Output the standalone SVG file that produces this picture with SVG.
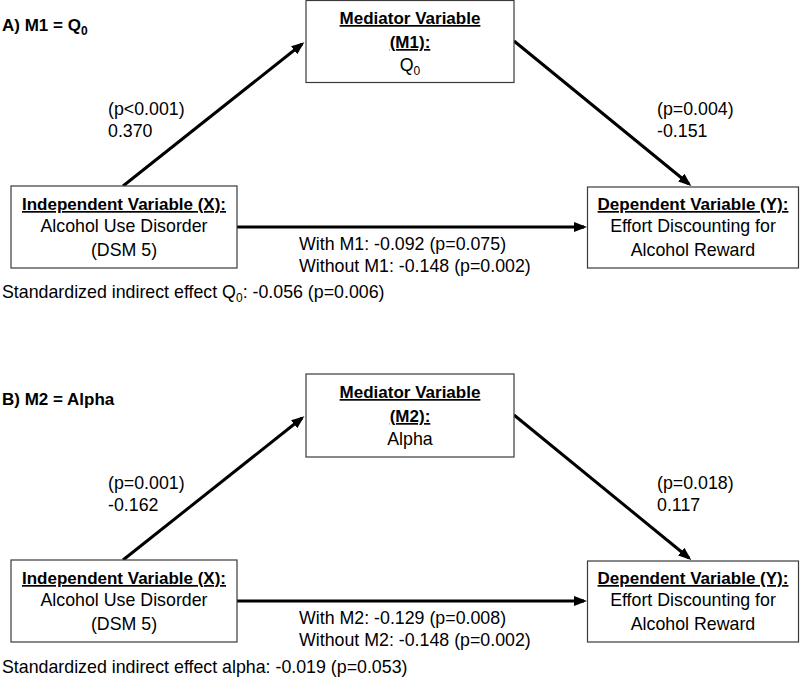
<svg xmlns="http://www.w3.org/2000/svg" width="800" height="680" viewBox="0 0 800 680">
<defs>
<style>
text{font-family:"Liberation Sans",Arial,sans-serif;font-size:17.8px;fill:#000}
.b{font-weight:bold;font-size:17px}
.u{text-decoration:underline}
.c{text-anchor:middle}
.box{fill:#fff;stroke:#3a3a3a;stroke-width:1.2}
.arr{stroke:#000;stroke-width:3;fill:none;marker-end:url(#ah)}
</style>
<marker id="ah" markerUnits="userSpaceOnUse" markerWidth="14" markerHeight="14" viewBox="0 0 14 14" refX="10" refY="7" orient="auto">
<path d="M0,2 L13,7 L0,12 z" fill="#000"/>
</marker>
</defs>
<rect width="800" height="680" fill="#fff"/>

<!-- Panel A -->
<text id="titleA" class="b" x="2" y="31">A) M1 = Q<tspan font-size="12" dy="4">0</tspan></text>
<g id="connectorsA">
<line class="arr" x1="123" y1="186" x2="302" y2="44"/>
<line class="arr" x1="514" y1="41" x2="689" y2="184"/>
<line class="arr" x1="237" y1="227" x2="584" y2="227"/>
</g>
<g id="mediatorA">
<rect class="box" x="306" y="0.5" width="208" height="82"/>
<text class="b u c" x="410" y="24">Mediator Variable</text>
<text class="b u c" x="410" y="48">(M1):</text>
<text class="c" x="410" y="71">Q<tspan font-size="12" dy="4">0</tspan></text>
</g>
<g id="independentA">
<rect class="box" x="11" y="186" width="226" height="82"/>
<text class="b u c" x="124" y="210">Independent Variable (X):</text>
<text class="c" x="124" y="232">Alcohol Use Disorder</text>
<text class="c" x="124" y="256">(DSM 5)</text>
</g>
<g id="dependentA">
<rect class="box" x="587.5" y="187" width="211" height="81"/>
<text class="b u c" x="693" y="210">Dependent Variable (Y):</text>
<text class="c" x="693" y="232">Effort Discounting for</text>
<text class="c" x="693" y="256">Alcohol Reward</text>
</g>
<g id="labelsA">
<text x="108" y="115">(p&lt;0.001)</text>
<text x="108" y="137">0.370</text>
<text x="657" y="115">(p=0.004)</text>
<text x="657" y="137">-0.151</text>
<text x="299" y="250">With M1: -0.092 (p=0.075)</text>
<text x="299" y="272">Without M1: -0.148 (p=0.002)</text>
<text x="2" y="298">Standardized indirect effect Q<tspan font-size="12" dy="4">0</tspan><tspan dy="-4">: -0.056 (p=0.006)</tspan></text>
</g>

<!-- Panel B -->
<text id="titleB" class="b" x="2" y="405">B) M2 = Alpha</text>
<g id="connectorsB">
<line class="arr" x1="123" y1="560" x2="302" y2="418"/>
<line class="arr" x1="514" y1="415" x2="689" y2="558"/>
<line class="arr" x1="237" y1="601" x2="584" y2="601"/>
</g>
<g id="mediatorB">
<rect class="box" x="306" y="374" width="208" height="83"/>
<text class="b u c" x="410" y="398">Mediator Variable</text>
<text class="b u c" x="410" y="422">(M2):</text>
<text class="c" x="410" y="445">Alpha</text>
</g>
<g id="independentB">
<rect class="box" x="11" y="560" width="226" height="82"/>
<text class="b u c" x="124" y="584">Independent Variable (X):</text>
<text class="c" x="124" y="606">Alcohol Use Disorder</text>
<text class="c" x="124" y="630">(DSM 5)</text>
</g>
<g id="dependentB">
<rect class="box" x="587.5" y="561" width="211" height="81"/>
<text class="b u c" x="693" y="584">Dependent Variable (Y):</text>
<text class="c" x="693" y="606">Effort Discounting for</text>
<text class="c" x="693" y="630">Alcohol Reward</text>
</g>
<g id="labelsB">
<text x="108" y="489">(p=0.001)</text>
<text x="108" y="511">-0.162</text>
<text x="657" y="489">(p=0.018)</text>
<text x="657" y="511">0.117</text>
<text x="299" y="624">With M2: -0.129 (p=0.008)</text>
<text x="299" y="646">Without M2: -0.148 (p=0.002)</text>
<text x="2" y="673">Standardized indirect effect alpha: -0.019 (p=0.053)</text>
</g>
</svg>
